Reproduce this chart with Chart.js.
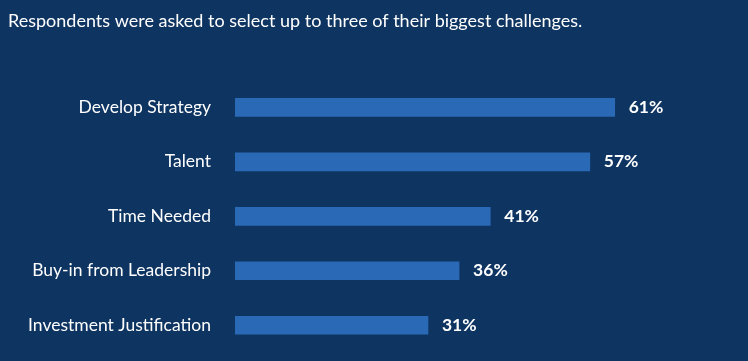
<!DOCTYPE html>
<html>
<head>
    <title>Challenges</title>
    <script src="https://cdn.jsdelivr.net/npm/chart.js"></script>
    <style>
        html,body{margin:0;padding:0;background:#0e3461;overflow:hidden;}
        /* taller than the window: the chart keeps ~25px spare at its bottom edge */
        #wrap{width:748px;height:387px;position:relative;}
    </style>
</head>
<body>
<div id="wrap"><canvas id="challengeChart"></canvas></div>
<script>
const titleText='Respondents were asked to select up to three of their biggest challenges.';
const categories=['Develop Strategy','Talent','Time Needed','Buy-in from Leadership','Investment Justification'];
const shares=[61,57,41,36,31];

// value labels to the right of each bar
const valueLabels={
    id:'valueLabels',
    afterDatasetsDraw(chart){
        const c=chart.ctx;
        const meta=chart.getDatasetMeta(0);
        c.save();
        c.fillStyle='#ffffff';
        c.font='bold 17.5px Lato';
        c.textBaseline='middle';
        c.textAlign='left';
        meta.data.forEach((bar,i)=>{
            c.fillText(shares[i]+'%',bar.x+14,bar.y);
        });
        c.restore();
    }
};

const ctx=document.getElementById('challengeChart').getContext('2d');
const chart=new Chart(ctx,{
    type:'bar',
    data:{labels:categories,datasets:[
        {data:shares,backgroundColor:'#2a69b6',borderWidth:0,barThickness:18}
    ]},
    options:{
        indexAxis:'y',
        responsive:true,
        maintainAspectRatio:false,
        animation:false,
        layout:{padding:{left:8,right:15,top:0,bottom:9}},
        plugins:{
            legend:{display:false},
            tooltip:{enabled:false},
            title:{
                display:true,text:titleText,align:'start',color:'#ffffff',
                font:{family:'Lato',size:18,weight:'normal'},
                padding:{top:10,bottom:48.5}
            }
        },
        scales:{
            x:{display:false,min:0,max:80},
            y:{
                grid:{display:false,drawTicks:false},border:{display:false},
                ticks:{color:'#ffffff',font:{family:'Lato',size:17.5},padding:24},
                afterFit(s){s.width=227;}
            }
        }
    },
    plugins:[valueLabels]
});
</script>
</body>
</html>
